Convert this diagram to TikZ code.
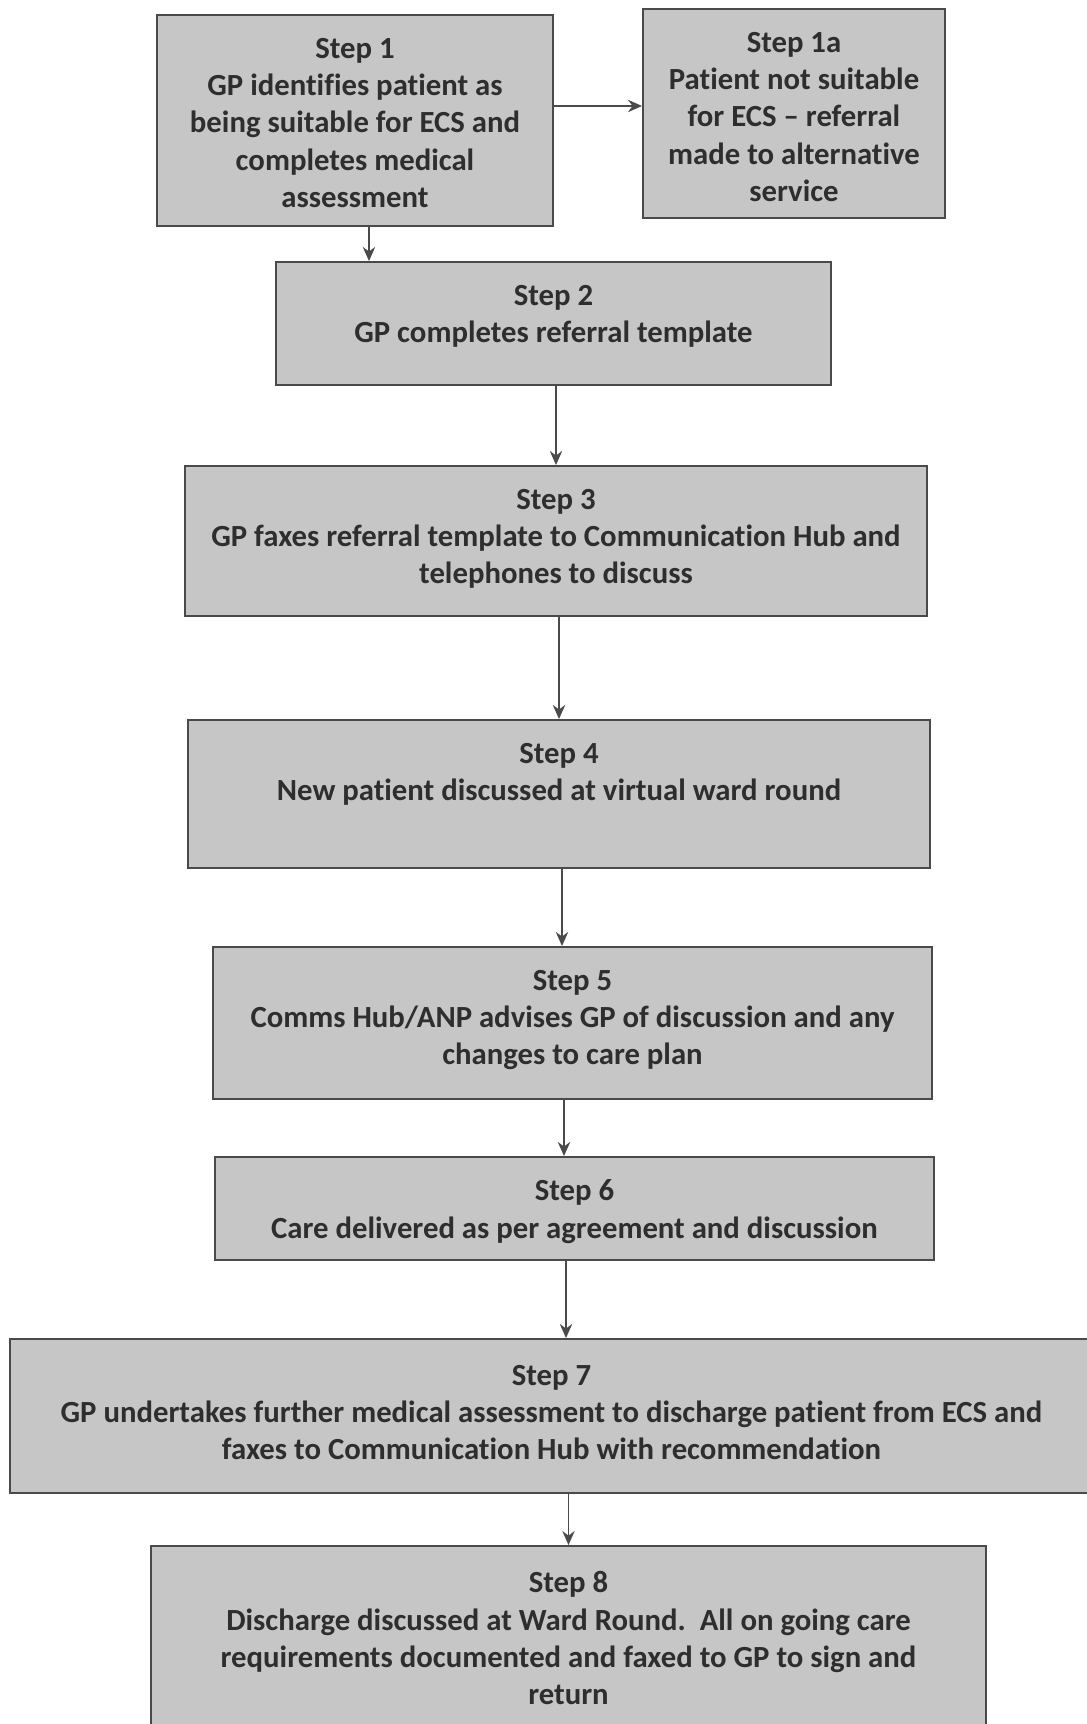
\documentclass[tikz,border=0pt]{standalone}
\usepackage{fontspec}
\setmainfont{Carlito}[Ligatures=NoCommon]
\usepackage{xcolor}
\usetikzlibrary{positioning,arrows.meta}
\definecolor{boxgray}{HTML}{C6C6C6}
\definecolor{edgegray}{HTML}{4A4A4A}
\definecolor{inkgray}{HTML}{2E2E2E}

\begin{document}
\begin{tikzpicture}[x=0.02cm, y=-0.02cm,
  stepbox/.style={draw=edgegray, line width=1.1pt, fill=boxgray, inner sep=0pt},
  steptext/.style={anchor=north, align=center, inner sep=0pt, text=inkgray,
    font=\bfseries\fontsize{17.5}{21.3}\selectfont},
  flow/.style={draw=edgegray, line width=1pt, -{Stealth[length=8pt, width=7pt]}}]
\clip (0,0) rectangle (1087,1724);
\fill[white] (0,0) rectangle (1087,1724);

\node[stepbox, minimum width=7.92cm, minimum height=4.22cm] (s1) at (355,120.5) {};
\node[steptext, below=0.47cm of s1.north] (t1) {Step 1\\GP identifies patient as\\being suitable for ECS and\\completes medical\\assessment};

\node[stepbox, minimum width=6.04cm, minimum height=4.18cm] (s1a) at (794,113.5) {};
\node[steptext, below=0.47cm of s1a.north] (t1a) {Step 1a\\Patient not suitable\\for ECS -- referral\\made to alternative\\service};

\node[stepbox, minimum width=11.10cm, minimum height=2.46cm] (s2) at (553.5,323.5) {};
\node[steptext, below=0.47cm of s2.north] (t2) {Step 2\\GP completes referral template};

\node[stepbox, minimum width=14.84cm, minimum height=3.00cm] (s3) at (556,541) {};
\node[steptext, below=0.47cm of s3.north] (t3) {Step 3\\GP faxes referral template to Communication Hub and\\telephones to discuss};

\node[stepbox, minimum width=14.84cm, minimum height=2.96cm] (s4) at (559,794) {};
\node[steptext, below=0.47cm of s4.north] (t4) {Step 4\\New patient discussed at virtual ward round};

\node[stepbox, minimum width=14.38cm, minimum height=3.04cm] (s5) at (572.5,1023) {};
\node[steptext, below=0.47cm of s5.north] (t5) {Step 5\\Comms Hub/ANP advises GP of discussion and any\\changes to care plan};

\node[stepbox, minimum width=14.38cm, minimum height=2.06cm] (s6) at (574.5,1208.5) {};
\node[steptext, below=0.47cm of s6.north] (t6) {Step 6\\Care delivered as per agreement and discussion};

\node[stepbox, minimum width=21.66cm, minimum height=3.08cm] (s7) at (551.5,1416) {};
\node[steptext, below=0.53cm of s7.north] (t7) {Step 7\\GP undertakes further medical assessment to discharge patient from ECS and\\faxes to Communication Hub with recommendation};

\node[stepbox, minimum width=16.70cm, minimum height=3.80cm] (s8) at (568.5,1641) {};
\node[steptext, below=0.52cm of s8.north] (t8) {Step 8\\Discharge discussed at Ward Round.\ \ All on going care\\requirements documented and faxed to GP to sign and\\return};

% connectors
\draw[flow] ([yshift=0.29cm]s1.east) -- ([yshift=0.29cm]s1.east -| s1a.west);
\draw[flow] ([xshift=0.28cm]s1.south) -- ([xshift=0.28cm]s1.south |- s2.north);
\draw[flow] (s3.north |- s2.south) -- (s3.north);
\draw[flow] (s4.north |- s3.south) -- (s4.north);
\draw[flow] ([xshift=0.06cm]s4.south) -- ([xshift=0.06cm]s4.south |- s5.north);
\draw[flow] ([xshift=-0.17cm]s5.south) -- ([xshift=-0.17cm]s5.south |- s6.north);
\draw[flow] ([xshift=-0.17cm]s6.south) -- ([xshift=-0.17cm]s6.south |- s7.north);
\draw[flow] (s8.north |- s7.south) -- (s8.north);
\end{tikzpicture}
\end{document}
